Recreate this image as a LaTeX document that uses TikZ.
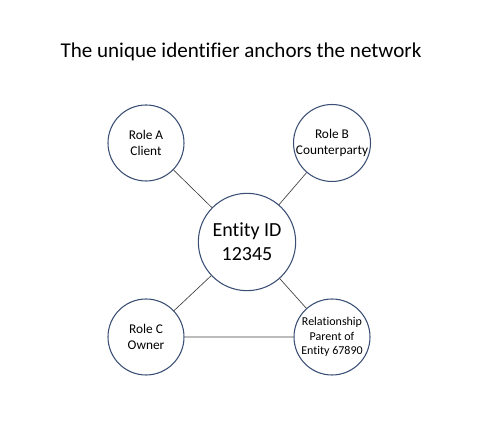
\documentclass[tikz,border=0pt]{standalone}
\usepackage{fontspec}
\setmainfont[Ligatures=NoCommon]{Carlito}
\usetikzlibrary{positioning}
\definecolor{ringblue}{HTML}{3B4F75}
\definecolor{linkgray}{HTML}{404040}
\tikzset{
    role/.style={circle, draw=ringblue, line width=0.8pt, fill=white, minimum size=57pt, inner sep=0pt, align=center, font=\fontsize{10}{12}\selectfont},
    hub/.style={role, minimum size=73pt, font=\fontsize{15}{18}\selectfont},
    link/.style={draw=linkgray, line width=0.5pt}
}

\begin{document}
\begin{tikzpicture}[x=0.75pt,y=-0.75pt]
    \useasboundingbox (0,0) rectangle (479,441);
    \node[font=\fontsize{15.8}{19}\selectfont] (title) at (241,52) {The unique identifier anchors the network};
    \node[hub] (entity) at (247,242) {Entity ID\\12345};
    \node[role] (roleA) at (146,143) {Role A\\Client};
    \node[role] (roleB) at (332,143) {Role B\\Counterparty};
    \node[role] (roleC) at (146,337) {Role C\\Owner};
    \node[role, font=\fontsize{9}{11}\selectfont] (rel) at (332,337) {Relationship\\Parent of\\Entity 67890};
    % connectors
    \path[link] (roleA) -- (entity)
    (roleB) -- (entity)
    (roleC) -- (entity)
    (rel) -- (entity)
    (roleC) -- (rel);
\end{tikzpicture}
\end{document}
